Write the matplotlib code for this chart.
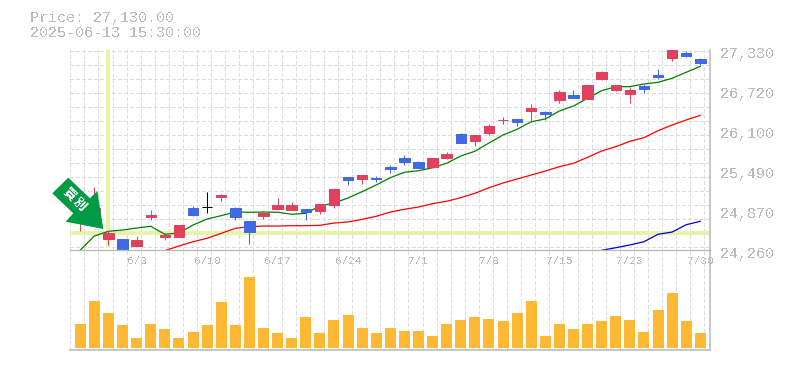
import matplotlib
matplotlib.use("Agg")
import matplotlib.pyplot as plt
from matplotlib.patches import Polygon

plt.rcParams["text.antialiased"] = False

W, H = 785, 370

opens = [24690,24700,24430,24430,24320,24765,24460,24460,24905,24920,25075,24905,24705,24780,24890,24875,24890,24860,24950,25380,25350,25365,25535,25670,25610,25535,25670,26040,25935,26055,26248,26270,26395,26380,26560,26640,26580,26885,26715,26655,26775,26945,27205,27285,27190]
closes = [24950,24900,24520,24170,24415,24795,24490,24645,24795,24920,25105,24765,24535,24830,24950,24950,24845,24965,25195,25335,25410,25350,25505,25610,25520,25670,25735,25900,26025,26165,26263,26225,26440,26350,26685,26595,26795,26990,26795,26715,26730,26915,27400,27240,27130]
highs = [24980,25225,24550,24430,24475,24875,24520,24645,24935,25150,25120,24920,24705,24860,25060,25000,24890,24965,25195,25380,25410,25395,25565,25720,25625,25670,25765,26055,26025,26195,26300,26270,26500,26395,26715,26715,26795,27010,26795,26760,26810,27040,27400,27315,27205]
lows = [24550,24700,24335,24170,24320,24720,24415,24460,24780,24830,25010,24720,24350,24735,24890,24875,24720,24815,24905,25260,25275,25305,25440,25565,25520,25520,25655,25900,25855,26025,26195,26165,26225,26255,26515,26595,26580,26870,26700,26515,26670,26885,27160,27225,27100]
ma_short = [24260,24475,24547,24567,24598,24624,24501,24521,24644,24736,24787,24843,24839,24843,24839,24808,24823,24935,24981,25058,25155,25258,25370,25453,25477,25523,25591,25703,25775,25902,26025,26113,26229,26271,26394,26470,26589,26705,26767,26767,26808,26834,26896,26988,27080]
ma_mid = [24251,24321,24387,24440,24516,24593,24618,24628,24628,24633,24633,24639,24674,24690,24731,24777,24843,24885,24920,24971,25008,25063,25130,25216,25288,25350,25411,25473,25539,25591,25683,25780,25846,25929,25984,26091,26179,26256,26328]
ma_long = [24255,24295,24337,24387,24501,24536,24648,24701]
volume = [24,47,35,23,10,24,19,10,16,23,46,23,71,20,15,10,31,15,28,33,20,15,20,17,17,12,24,28,31,29,27,35,47,12,24,19,24,27,32,28,16,38,55,27,15]
price_ticks = [27330,26720,26100,25490,24870,24260]
date_ticks = [4,9,14,19,24,29,34,39,44]
date_labels = ["6/3","6/10","6/17","6/24","7/1","7/8","7/15","7/23","7/30"]
signal_bar = 2
signal_price = 24515

TXT = "#bbbbbb"; GRID = "#dddddd"; AXIS = "#bbbbbb"
RED = "#e2405f"; BLUE = "#4169e1"; ORANGE = "#ffb833"; LIME = "#e6f5a8"; ARROW = "#009944"
MONO = "Liberation Mono"
PX = 0.72  # one pixel in points at 100 dpi

fig = plt.figure(figsize=(W/100, H/100), dpi=100, facecolor="white")

def axes_px(x0, y0, x1, y1):
    return fig.add_axes([x0/W, 1-y1/H, (x1-x0)/W, (y1-y0)/H])

ax = axes_px(70, 50, 710, 250)
vx = axes_px(70, 250, 710, 350)
step = 620/44
xlim = ((70-80.3)/step, (710-80.3)/step)
for a in (ax, vx):
    a.set_xlim(*xlim)
    a.patch.set_alpha(0)
    for s in a.spines.values():
        s.set_visible(False)
ax.set_ylim(24260, 27330)
vx.set_ylim(-2, 98)

n = len(opens)
idx = list(range(n))
dash = (0, (4, 2.6))
grid_x = [i-0.71 for i in idx] + [n-1+0.29]
for a in (ax, vx):
    a.vlines(grid_x, *a.get_ylim(), color=GRID, lw=PX, linestyles=[dash], zorder=1, antialiased=False)
py = 3070/200
ax.hlines([27330-(0.5+14*k)*py for k in range(15)], *xlim, color=GRID, lw=PX, linestyles=[dash], zorder=1, antialiased=False)

# signal cross-hair
ax.axhline(signal_price, color=LIME, lw=2.5*PX, zorder=2, antialiased=False)
ax.vlines([signal_bar], 24290, 27330, color=LIME, lw=2.5*PX, zorder=2, antialiased=False)

# moving averages
ax.plot(idx, ma_short, color="#008000", lw=1.25*PX, zorder=3)
ax.plot(idx[6:], ma_mid, color="#ff0000", lw=1.25*PX, zorder=3)
ax.plot(idx[37:], ma_long, color="#0000cd", lw=1.25*PX, zorder=3)

# candles
cols = [RED if c > o else BLUE if c < o else "black" for o, c in zip(opens, closes)]
ax.vlines(idx, lows, highs, color=cols, lw=PX, zorder=4)
ax.bar(idx, [abs(c-o) for o, c in zip(opens, closes)], bottom=[min(o, c) for o, c in zip(opens, closes)],
       width=0.74, color=cols, edgecolor=cols, linewidth=PX, zorder=5)

# volume
vx.bar(idx, volume, width=0.78, color=ORANGE, zorder=3)

# frame
ax.axhline(24260, color=AXIS, lw=1.3*PX, zorder=6, clip_on=False)
vx.axhline(-2, color=AXIS, lw=1.6*PX, zorder=6, clip_on=False)
for a in (ax, vx):
    a.axvline(xlim[1], color=AXIS, lw=1.6*PX, zorder=6, clip_on=False)

# axis labels
ax.set_xticks(date_ticks, date_labels)
ax.tick_params(axis="x", length=0, pad=4, labelsize=8, labelcolor=TXT)
for t in ax.get_xticklabels():
    t.set_fontfamily(MONO)
ax.set_yticks([])
for p in price_ticks:
    ax.annotate(f"{p:,}", xy=(1, p), xycoords=("axes fraction", "data"), xytext=(10, -4),
                textcoords="offset pixels", ha="left", va="center", fontsize=10.8,
                color=TXT, family=MONO, annotation_clip=False)
vx.set_xticks([]); vx.set_yticks([])

# header
fig.text(30/W, 1-18/H, "Price: 27,130.00", fontsize=10.8, color=TXT, family=MONO, va="center")
fig.text(30/W, 1-33/H, "2025-06-13 15:30:00", fontsize=10.8, color=TXT, family=MONO, va="center")

# signal arrow
arrow_px = [(68.3,177.7),(90,198.3),(97.3,191),(103.3,229),(65.7,221.7),(73.3,213.3),(52.3,193.3)]
fig.add_artist(Polygon([(x/W, 1-y/H) for x, y in arrow_px], closed=True, transform=fig.transFigure,
                       facecolor=ARROW, edgecolor="none", zorder=10))
for ch, (x, y) in zip("買別", [(69, 194), (79, 204)]):
    fig.text(x/W, 1-y/H, ch, color="white", fontsize=9, fontweight="bold", rotation=-45,
             ha="center", va="center", family=["Noto Sans CJK JP", "DejaVu Sans"], zorder=11)

fig.savefig("out.png", dpi=100)
